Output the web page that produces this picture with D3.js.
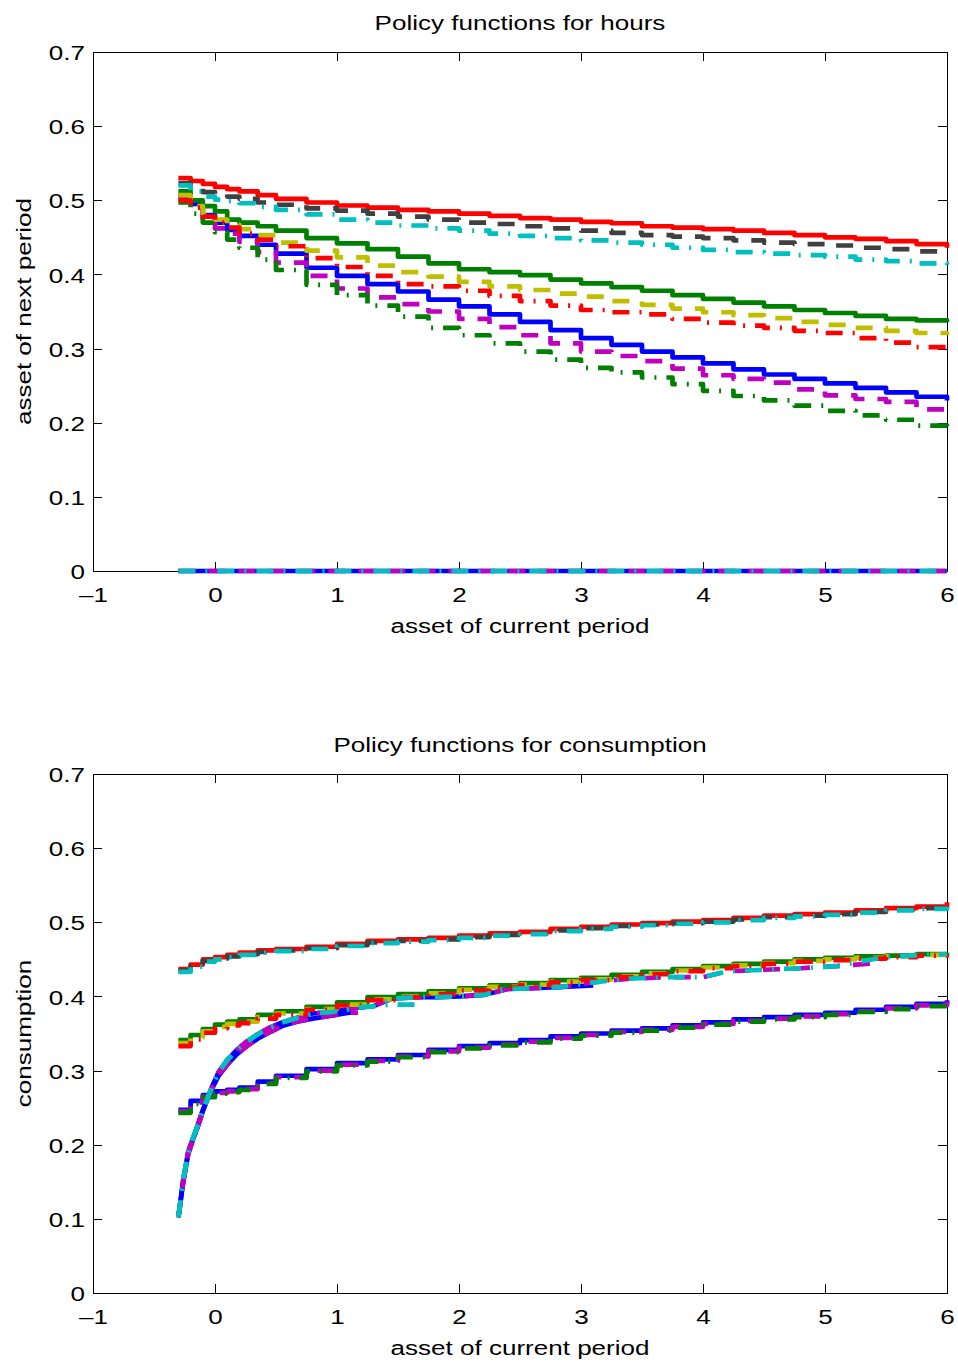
<!DOCTYPE html>
<html>
<head>
<meta charset="utf-8">
<style>
  body { margin: 0; background: #fff; }
  svg { display: block; }
  text { font-family: "Liberation Sans", Arial, sans-serif; font-size: 21px; fill: #000; }
  .tick line { stroke: #000; shape-rendering: crispEdges; }
  .frame { fill: none; stroke: #000; shape-rendering: crispEdges; }
  .series { fill: none; stroke-width: 4.7; stroke-linejoin: round; }
</style>
</head>
<body>
<svg width="958" height="1363"></svg>
<script src="https://d3js.org/d3.v7.min.js"></script>
<script>
// tick values
const xTicks = [-1, 0, 1, 2, 3, 4, 5, 6]
const yTicks = [0, 0.1, 0.2, 0.3, 0.4, 0.5, 0.6, 0.7]

// asset grid the policy lines are read at
const gridX = [-0.3, -0.2, -0.1, 0, 0.1, 0.2, 0.35, 0.5, 0.75, 1, 1.25, 1.5, 1.75, 2, 2.25, 2.5, 2.75, 3, 3.25, 3.5, 3.75, 4, 4.25, 4.5, 4.75, 5, 5.25, 5.5, 5.75, 6]

// top panel: hours
const hoursRedSolid     = [0.530, 0.526, 0.522, 0.518, 0.515, 0.512, 0.507, 0.502, 0.497, 0.493, 0.490, 0.487, 0.485, 0.482, 0.479, 0.476, 0.474, 0.471, 0.469, 0.465, 0.463, 0.461, 0.459, 0.456, 0.453, 0.450, 0.448, 0.445, 0.441, 0.436]
const hoursGrayDash     = [0.523, 0.516, 0.511, 0.508, 0.505, 0.502, 0.497, 0.494, 0.489, 0.486, 0.482, 0.478, 0.474, 0.470, 0.468, 0.465, 0.462, 0.459, 0.456, 0.453, 0.451, 0.449, 0.446, 0.443, 0.441, 0.439, 0.436, 0.434, 0.431, 0.429]
const hoursCyanDashDot  = [0.520, 0.512, 0.505, 0.501, 0.499, 0.496, 0.491, 0.487, 0.481, 0.474, 0.470, 0.466, 0.462, 0.459, 0.455, 0.452, 0.449, 0.446, 0.443, 0.440, 0.436, 0.433, 0.430, 0.428, 0.426, 0.424, 0.420, 0.418, 0.415, 0.413]
const hoursGreenSolid   = [0.512, 0.500, 0.492, 0.485, 0.474, 0.470, 0.465, 0.459, 0.449, 0.442, 0.434, 0.424, 0.415, 0.407, 0.403, 0.399, 0.393, 0.388, 0.383, 0.378, 0.372, 0.367, 0.362, 0.357, 0.352, 0.348, 0.344, 0.340, 0.338, 0.336]
const hoursYellowDash   = [0.507, 0.492, 0.481, 0.474, 0.467, 0.461, 0.453, 0.443, 0.432, 0.423, 0.412, 0.403, 0.397, 0.390, 0.384, 0.379, 0.374, 0.370, 0.364, 0.359, 0.354, 0.349, 0.345, 0.341, 0.336, 0.332, 0.328, 0.324, 0.321, 0.318]
const hoursRedDashDot   = [0.500, 0.490, 0.478, 0.470, 0.463, 0.455, 0.447, 0.438, 0.422, 0.410, 0.398, 0.387, 0.384, 0.378, 0.371, 0.364, 0.358, 0.352, 0.349, 0.346, 0.340, 0.335, 0.331, 0.328, 0.324, 0.321, 0.314, 0.308, 0.302, 0.298]
const hoursBlueSolid    = [0.506, 0.495, 0.480, 0.470, 0.460, 0.452, 0.440, 0.428, 0.409, 0.398, 0.387, 0.377, 0.366, 0.357, 0.346, 0.336, 0.325, 0.314, 0.305, 0.296, 0.288, 0.280, 0.272, 0.265, 0.259, 0.253, 0.247, 0.241, 0.235, 0.230]
const hoursMagentaDash  = [0.503, 0.490, 0.475, 0.462, 0.455, 0.444, 0.430, 0.416, 0.398, 0.381, 0.369, 0.360, 0.350, 0.340, 0.329, 0.318, 0.307, 0.296, 0.290, 0.283, 0.273, 0.264, 0.259, 0.254, 0.245, 0.237, 0.232, 0.228, 0.218, 0.210]
const hoursGreenDashDot = [0.497, 0.482, 0.470, 0.457, 0.447, 0.436, 0.420, 0.406, 0.386, 0.372, 0.358, 0.343, 0.328, 0.318, 0.307, 0.296, 0.285, 0.274, 0.268, 0.261, 0.252, 0.243, 0.236, 0.230, 0.223, 0.216, 0.210, 0.204, 0.196, 0.189]
const hoursZero         = [0, 0, 0, 0, 0, 0, 0, 0, 0, 0, 0, 0, 0, 0, 0, 0, 0, 0, 0, 0, 0, 0, 0, 0, 0, 0, 0, 0, 0, 0]

// bottom panel: consumption
const consRedSolid      = [0.437, 0.443, 0.450, 0.453, 0.456, 0.459, 0.462, 0.464, 0.467, 0.471, 0.475, 0.477, 0.479, 0.482, 0.485, 0.487, 0.491, 0.494, 0.497, 0.499, 0.501, 0.503, 0.506, 0.509, 0.511, 0.513, 0.516, 0.519, 0.521, 0.527]
const consGrayDash      = [0.435, 0.441, 0.448, 0.451, 0.454, 0.457, 0.460, 0.462, 0.465, 0.469, 0.473, 0.475, 0.477, 0.480, 0.483, 0.485, 0.489, 0.492, 0.495, 0.497, 0.499, 0.501, 0.504, 0.507, 0.509, 0.511, 0.514, 0.517, 0.519, 0.523]
const consCyanDashDot   = [0.433, 0.440, 0.447, 0.450, 0.453, 0.456, 0.459, 0.461, 0.464, 0.468, 0.472, 0.474, 0.476, 0.479, 0.482, 0.484, 0.488, 0.491, 0.494, 0.496, 0.498, 0.500, 0.503, 0.506, 0.508, 0.510, 0.513, 0.516, 0.518, 0.521]
const consGreenSolid    = [0.341, 0.348, 0.356, 0.362, 0.366, 0.369, 0.375, 0.380, 0.386, 0.392, 0.399, 0.403, 0.407, 0.411, 0.415, 0.418, 0.422, 0.425, 0.429, 0.433, 0.437, 0.441, 0.444, 0.447, 0.450, 0.452, 0.454, 0.455, 0.457, 0.459]
const consYellowDash    = [0.337, 0.345, 0.353, 0.359, 0.363, 0.366, 0.372, 0.377, 0.383, 0.389, 0.396, 0.400, 0.404, 0.409, 0.413, 0.416, 0.420, 0.423, 0.427, 0.431, 0.435, 0.439, 0.442, 0.445, 0.448, 0.450, 0.452, 0.454, 0.456, 0.457]
const consRedDashDot    = [0.333, 0.342, 0.351, 0.357, 0.361, 0.364, 0.370, 0.375, 0.382, 0.388, 0.395, 0.399, 0.403, 0.408, 0.412, 0.415, 0.419, 0.422, 0.426, 0.430, 0.434, 0.438, 0.441, 0.444, 0.447, 0.449, 0.451, 0.453, 0.455, 0.456]
const consBlueSolid     = [0.247, 0.259, 0.267, 0.272, 0.274, 0.277, 0.285, 0.293, 0.302, 0.310, 0.315, 0.321, 0.328, 0.333, 0.337, 0.341, 0.346, 0.350, 0.354, 0.357, 0.361, 0.365, 0.369, 0.372, 0.375, 0.378, 0.382, 0.386, 0.390, 0.395]
const consMagentaDash   = [0.245, 0.257, 0.265, 0.270, 0.272, 0.275, 0.283, 0.291, 0.300, 0.308, 0.313, 0.319, 0.326, 0.331, 0.335, 0.339, 0.344, 0.348, 0.352, 0.355, 0.359, 0.363, 0.367, 0.370, 0.373, 0.376, 0.380, 0.384, 0.388, 0.393]
const consGreenDashDot  = [0.243, 0.255, 0.264, 0.269, 0.271, 0.274, 0.282, 0.290, 0.299, 0.307, 0.312, 0.318, 0.325, 0.330, 0.334, 0.338, 0.343, 0.347, 0.351, 0.354, 0.358, 0.362, 0.366, 0.369, 0.372, 0.375, 0.379, 0.383, 0.387, 0.392]

// consumption of the zero-hours states, finer grid, null where a line stops
const zeroX = [-0.3, -0.26, -0.22, -0.18, -0.14, -0.1, -0.06, -0.02, 0.03, 0.1, 0.18, 0.26, 0.35, 0.45, 0.55, 0.67, 0.8, 0.95, 1.1, 1.17,
               1.3, 1.45, 1.64, 1.8, 2.0, 2.2, 2.4, 2.6, 2.85, 3.1, 3.4, 3.7, 4.0, 4.2, 4.5, 4.8, 5.1, 5.45, 5.7, 6]
const consZeroLow = [0.102, 0.150, 0.187, 0.207, 0.225, 0.245, 0.262, 0.277, 0.293, 0.308, 0.322, 0.333, 0.343, 0.352, 0.360, 0.366, 0.370, 0.374, 0.378, 0.378,
                     null, null, null, null, null, null, null, null, null, null, null, null, null, null, null, null, null, null, null, null]
const consZeroU1  = [0.102, 0.153, 0.190, 0.209, 0.227, 0.247, 0.263, 0.280, 0.298, 0.314, 0.328, 0.339, 0.349, 0.358, 0.365, 0.371, 0.377, 0.379, 0.383, 0.385,
                     0.387, 0.389, 0.389, null, null, null, null, null, null, null, null, null, null, null, null, null, null, null, null, null]
const consZeroU2  = [0.102, 0.153, 0.190, 0.209, 0.227, 0.247, 0.263, 0.280, 0.298, 0.314, 0.328, 0.339, 0.349, 0.358, 0.365, 0.371, 0.377, 0.379, 0.383, 0.385,
                     0.387, 0.397, 0.399, 0.399, 0.400, 0.402, 0.410, 0.411, 0.413, 0.415, null, null, null, null, null, null, null, null, null, null]
const consZeroU3  = [0.102, 0.153, 0.190, 0.209, 0.227, 0.247, 0.263, 0.280, 0.298, 0.314, 0.328, 0.339, 0.349, 0.358, 0.365, 0.371, 0.377, 0.379, 0.383, 0.385,
                     0.387, 0.397, 0.399, 0.399, 0.400, 0.402, 0.410, 0.411, 0.413, 0.419, 0.424, 0.426, 0.426, 0.434, 0.436, 0.438, 0.441, 0.445, null, null]
const consZeroU4  = [0.102, 0.153, 0.190, 0.209, 0.227, 0.247, 0.263, 0.280, 0.298, 0.314, 0.328, 0.339, 0.349, 0.358, 0.365, 0.371, 0.377, 0.379, 0.383, 0.385,
                     0.387, 0.397, 0.399, 0.399, 0.400, 0.402, 0.410, 0.411, 0.413, 0.419, 0.424, 0.426, 0.426, 0.434, 0.436, 0.438, 0.441, 0.452, 0.455, 0.457]

// line looks (matlab colour order, three line styles)
let styles = {
    redSolid:      {color: "#ff0000", dash: null},
    grayDash:      {color: "#404040", dash: "17,13"},
    cyanDashDot:   {color: "#00bfbf", dash: "17,10,2,10"},
    greenSolid:    {color: "#008000", dash: null},
    yellowDash:    {color: "#bfbf00", dash: "17,13"},
    redDashDot:    {color: "#ff0000", dash: "17,10,2,10"},
    blueSolid:     {color: "#0000ff", dash: null},
    magentaDash:   {color: "#bf00bf", dash: "17,13"},
    greenDashDot:  {color: "#008000", dash: "17,10,2,10"}
}

let hoursSeries = [
    {x: gridX, y: hoursZero, style: "blueSolid"},
    {x: gridX, y: hoursZero, style: "magentaDash"},
    {x: gridX, y: hoursZero, style: "cyanDashDot"},
    {x: gridX, y: hoursBlueSolid, style: "blueSolid"},
    {x: gridX, y: hoursMagentaDash, style: "magentaDash"},
    {x: gridX, y: hoursGreenDashDot, style: "greenDashDot"},
    {x: gridX, y: hoursGreenSolid, style: "greenSolid"},
    {x: gridX, y: hoursYellowDash, style: "yellowDash"},
    {x: gridX, y: hoursRedDashDot, style: "redDashDot"},
    {x: gridX, y: hoursRedSolid, style: "redSolid"},
    {x: gridX, y: hoursGrayDash, style: "grayDash"},
    {x: gridX, y: hoursCyanDashDot, style: "cyanDashDot"}
]

let consSeries = [
    {x: gridX, y: consBlueSolid, style: "blueSolid"},
    {x: gridX, y: consMagentaDash, style: "magentaDash"},
    {x: gridX, y: consGreenDashDot, style: "greenDashDot"},
    {x: zeroX, y: consZeroLow, style: "blueSolid", smooth: true},
    {x: zeroX, y: consZeroU2, style: "blueSolid", smooth: true},
    {x: zeroX, y: consZeroLow, style: "magentaDash", smooth: true},
    {x: zeroX, y: consZeroU3, style: "magentaDash", smooth: true},
    {x: zeroX, y: consZeroU1, style: "cyanDashDot", smooth: true},
    {x: gridX, y: consGreenSolid, style: "greenSolid"},
    {x: gridX, y: consYellowDash, style: "yellowDash"},
    {x: gridX, y: consRedDashDot, style: "redDashDot"},
    {x: zeroX, y: consZeroU4, style: "cyanDashDot", smooth: true},
    {x: gridX, y: consRedSolid, style: "redSolid"},
    {x: gridX, y: consGrayDash, style: "grayDash"},
    {x: gridX, y: consCyanDashDot, style: "cyanDashDot"}
]

let svg = d3.select("svg")
let stretch = 1.24   // the original font is wider than Arial

let left = 93, right = 947, plotH = 519

function widen(sel) {
    sel.each(function () {
        let t = d3.select(this)
        let tx = +t.attr("x") || 0
        let ty = +t.attr("y") || 0
        t.attr("x", 0).attr("y", 0)
            .attr("transform", `translate(${tx},${ty}) scale(${stretch},1)`)
    })
}

function drawPanel(top, title, ylabel, series) {
    let g = svg.append("g")

    let x = d3.scaleLinear().domain([-1, 6]).range([left, right])
    let y = d3.scaleLinear().domain([0, 0.7]).range([top + plotH, top])

    let fmtX = d => d < 0 ? "\u2013" + Math.abs(d) : String(d)
    let fmtY = d => d === 0 ? "0" : d3.format(".1f")(d)

    // axes with inward ticks on all four sides
    g.append("g")
        .attr("transform", `translate(0,${top + plotH})`)
        .call(d3.axisBottom(x).tickValues(xTicks).tickSize(-9).tickSizeOuter(0).tickPadding(16).tickFormat(fmtX))
        .call(a => a.select(".domain").remove())
        .call(a => a.selectAll("text").attr("font-size", null).attr("font-family", null).call(widen))

    g.append("g")
        .attr("transform", `translate(${left},0)`)
        .call(d3.axisLeft(y).tickValues(yTicks).tickSize(-9).tickSizeOuter(0).tickPadding(8).tickFormat(fmtY))
        .call(a => a.select(".domain").remove())
        .call(a => a.selectAll("text").attr("font-size", null).attr("font-family", null).attr("dy", "0.36em").call(widen))

    g.append("g")
        .attr("transform", `translate(0,${top})`)
        .call(d3.axisTop(x).tickValues(xTicks).tickSize(-9).tickSizeOuter(0).tickFormat(""))
        .call(a => a.select(".domain").remove())

    g.append("g")
        .attr("transform", `translate(${right},0)`)
        .call(d3.axisRight(y).tickValues(yTicks).tickSize(-9).tickSizeOuter(0).tickFormat(""))
        .call(a => a.select(".domain").remove())

    g.selectAll("g text").attr("fill", "#000")

    g.append("rect")
        .attr("class", "frame")
        .attr("x", left)
        .attr("y", top)
        .attr("width", right - left)
        .attr("height", plotH)

    // policy lines, staircase like the discrete grid solution
    series.forEach(s => {
        let pts = s.x.map((v, i) => [v, s.y[i]])
        let line = d3.line()
            .defined(d => d[1] !== null)
            .x(d => x(d[0]))
            .y(d => y(d[1]))
            .curve(s.smooth ? d3.curveLinear : d3.curveStepAfter)
        let st = styles[s.style]
        g.append("path")
            .attr("class", "series")
            .attr("d", line(pts))
            .attr("stroke", st.color)
            .attr("stroke-dasharray", st.dash)
    })

    // title and labels
    g.append("text")
        .attr("text-anchor", "middle")
        .attr("transform", `translate(${(left + right) / 2},${top - 22}) scale(${stretch},1)`)
        .text(title)

    g.append("text")
        .attr("text-anchor", "middle")
        .attr("transform", `translate(${(left + right) / 2},${top + plotH + 62}) scale(${stretch},1)`)
        .text("asset of current period")

    g.append("text")
        .attr("text-anchor", "middle")
        .attr("transform", `translate(31,${top + plotH / 2}) rotate(-90) scale(${stretch},1)`)
        .text(ylabel)
}

drawPanel(52, "Policy functions for hours", "asset of next period", hoursSeries)
drawPanel(774, "Policy functions for consumption", "consumption", consSeries)
</script>
</body>
</html>
